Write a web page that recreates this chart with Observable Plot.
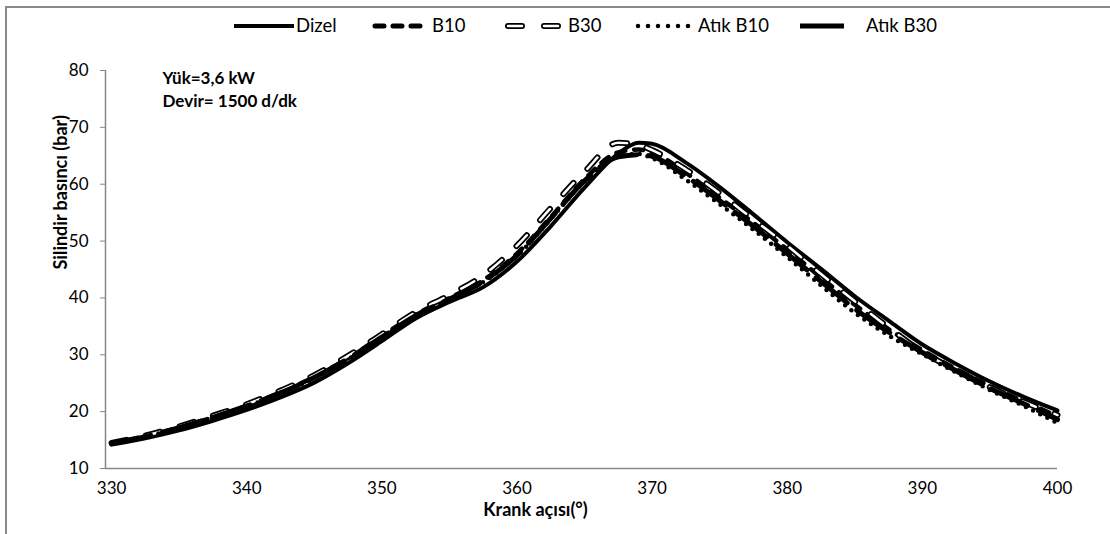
<!DOCTYPE html>
<html><head><meta charset="utf-8">
<script src="https://cdn.jsdelivr.net/npm/d3@7"></script>
<script src="https://cdn.jsdelivr.net/npm/@observablehq/plot@0.6"></script>
<style>
body{margin:0;background:#fff;}
#wrap{position:relative;width:1110px;height:534px;overflow:hidden;font-family:Lato, "Open Sans", sans-serif;background:#fff;}
#border{position:absolute;left:5px;top:6px;right:-10px;bottom:-10px;border-top:2px solid #8a8a8a;border-left:2px solid #8a8a8a;}
#chart{position:absolute;left:0;top:0;}
#legend{position:absolute;top:14px;left:0;width:1110px;height:24px;}
.sample{position:absolute;top:0;}
.ltext{position:absolute;top:0px;font-size:18.5px;line-height:23px;color:#000;white-space:nowrap;}
</style></head>
<body><div id="wrap"><div id="border"></div><div id="chart"></div><div id="legend"></div></div>
<script>
// ---- data ----
const seriesNames = ["Dizel", "B10", "B30", "Atık B10", "Atık B30"];
const angle = [330, 332.5, 335, 337.5, 340, 342.5, 345, 347.5, 350, 352.5, 355, 357.5, 360, 362.5, 365, 367.5, 369, 370, 372.5, 375, 377.5, 380, 382.5, 385, 387.5, 390, 392.5, 395, 397.5, 400];
const dizel   = [14.2, 15.3, 16.7, 18.4, 20.3, 22.5, 25.1, 28.5, 32.4, 36.4, 39.3, 41.9, 46.4, 52.6, 59.4, 65.4, 67.3, 67.1, 63.8, 59.5, 54.7, 49.8, 45.1, 40.3, 36.0, 31.8, 28.4, 25.3, 22.6, 20.2];
const b10     = [14.4, 15.7, 17.2, 19.0, 21.0, 23.4, 26.1, 29.4, 33.3, 37.1, 40.0, 43.1, 47.8, 54.2, 60.9, 65.6, 66.1, 65.6, 62.0, 57.6, 53.2, 48.5, 43.6, 38.8, 34.5, 30.8, 27.5, 24.5, 21.8, 19.2];
const b30     = [14.5, 15.8, 17.4, 19.3, 21.3, 23.7, 26.4, 29.8, 33.6, 37.5, 40.5, 44.0, 49.2, 55.8, 62.2, 67.3, 66.9, 66.0, 62.6, 58.4, 53.8, 49.2, 44.2, 39.4, 34.8, 30.5, 27.3, 24.3, 21.7, 19.4];
const atikB10 = [14.3, 15.6, 17.1, 18.9, 20.9, 23.2, 25.9, 29.2, 33.0, 36.8, 39.7, 42.8, 47.4, 53.9, 60.5, 65.0, 65.3, 64.6, 60.8, 56.5, 52.0, 47.2, 42.2, 37.4, 33.4, 30.1, 26.9, 23.8, 21.0, 18.0];
const atikB30 = [14.4, 15.6, 17.2, 19.0, 21.0, 23.3, 26.0, 29.3, 33.1, 36.9, 39.8, 42.9, 47.5, 54.0, 60.6, 64.8, 65.2, 64.9, 61.4, 57.1, 52.6, 47.8, 42.9, 38.1, 34.0, 30.4, 27.2, 24.1, 21.4, 18.6];
const xTicks = [330, 340, 350, 360, 370, 380, 390, 400];
const yTicks = [10, 20, 30, 40, 50, 60, 70, 80];
const note = "Yük=3,6 kW\nDevir= 1500 d/dk";
const xTitle = "Krank açısı(°)";
const yTitle = "Silindir basıncı (bar)";

// ---- build ----
const values = [dizel, b10, b30, atikB10, atikB30];
const rows = s => angle.map((a, i) => ({angle: a, p: values[s][i], name: seriesNames[s]}));
const xMin = 329.55;
const gray = "#868686";
const font = "Lato, 'Open Sans', sans-serif";
const base = {x: "angle", y: "p", curve: "monotone-x", stroke: "#000"};

const marks = [
  Plot.ruleX([xMin], {stroke: gray, strokeWidth: 1.5}),
  Plot.ruleY([10], {stroke: gray, strokeWidth: 1.5}),
  Plot.axisY({ticks: yTicks, tickSize: 5, tickPadding: 12, stroke: gray, fontSize: 17, label: null, tickFormat: d => String(d)}),
  Plot.axisX({ticks: xTicks, tickSize: 0, tickPadding: 13, fontSize: 17, label: null, tickFormat: d => String(d)}),
  Plot.line(rows(0), {...base, strokeWidth: 4}),
  Plot.line(rows(1), {...base, strokeWidth: 4.5, strokeDasharray: "9,9", strokeLinecap: "round"}),
  Plot.line(rows(2), {...base, strokeWidth: 6, strokeDasharray: "15,20", strokeLinecap: "round"}),
  Plot.line(rows(2), {...base, stroke: "#fff", strokeWidth: 2.5, strokeDasharray: "15,20", strokeLinecap: "round"}),
  Plot.line(rows(3), {...base, strokeWidth: 4.5, strokeDasharray: "0,8", strokeLinecap: "round"}),
  Plot.line(rows(4), {...base, strokeWidth: 5, strokeDasharray: "40,12"}),
  Plot.text([note], {frameAnchor: "top-left", dx: 57, dy: -3, lineAnchor: "top", lineHeight: 1.35, fontWeight: "bold", fontSize: 17, textAnchor: "start"}),
  Plot.text([yTitle], {frameAnchor: "left", dx: -44, rotate: -90, fontWeight: "bold", fontSize: 18}),
  Plot.text([xTitle], {frameAnchor: "bottom", dx: -46, dy: 47, fontWeight: "bold", fontSize: 18})
];

const chart = Plot.plot({
  width: 1110, height: 534,
  marginLeft: 105, marginRight: 53, marginTop: 70, marginBottom: 66,
  x: {domain: [xMin, 400]},
  y: {domain: [10, 80]},
  style: {fontFamily: font, color: "#000", background: "transparent", overflow: "visible"},
  marks
});
document.getElementById("chart").appendChild(chart);

// ---- legend ----
const legend = document.getElementById("legend");
const sampleLeft = [234, 372, 504, 635, 800];
const textLeft = [296, 432, 568, 698, 866];
const sampleSvg = [
  `<line x1="0" y1="12" x2="60" y2="12" stroke="#000" stroke-width="4"/>`,
  `<line x1="3" y1="12" x2="55" y2="12" stroke="#000" stroke-width="5" stroke-dasharray="9,9" stroke-linecap="round"/>`,
  `<line x1="4" y1="12" x2="60" y2="12" stroke="#000" stroke-width="6" stroke-dasharray="14,22" stroke-linecap="round"/><line x1="4" y1="12" x2="60" y2="12" stroke="#fff" stroke-width="2.5" stroke-dasharray="14,22" stroke-linecap="round"/>`,
  `<line x1="3" y1="12" x2="60" y2="12" stroke="#000" stroke-width="4.5" stroke-dasharray="0,10" stroke-linecap="round"/>`,
  `<line x1="0" y1="12" x2="44" y2="12" stroke="#000" stroke-width="5"/>`
];
seriesNames.forEach((n, i) => {
  const s = document.createElement("div");
  s.className = "sample"; s.style.left = sampleLeft[i] + "px";
  s.innerHTML = `<svg width="62" height="24">${sampleSvg[i]}</svg>`;
  legend.appendChild(s);
  const t = document.createElement("div");
  t.className = "ltext"; t.style.left = textLeft[i] + "px"; t.textContent = n;
  legend.appendChild(t);
});
</script>
</body></html>
